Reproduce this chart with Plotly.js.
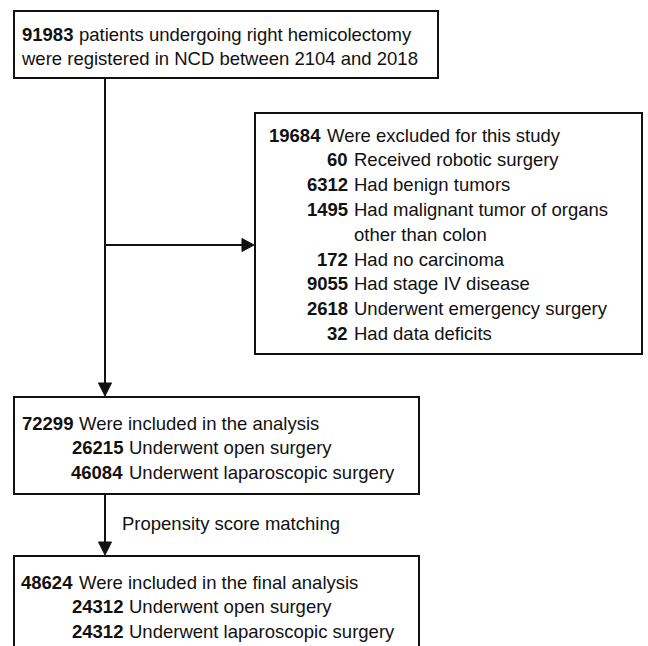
<!DOCTYPE html>
<html>
<head>
<meta charset="utf-8">
<script src="https://cdn.plot.ly/plotly-3.0.1.min.js"></script>
<style>html,body{margin:0;padding:0;background:#fff;}#chart{width:648px;height:646px;}</style>
</head>
<body>
<div id="chart"></div>
<script>
// ---- data ----
const registeredCount = 91983;
const registeredLines = ["patients undergoing right hemicolectomy", "were registered in NCD between 2104 and 2018"];
const excludedCount = 19684;
const excludedLabel = "Were excluded for this study";
const exclusionCounts = [60, 6312, 1495, 172, 9055, 2618, 32];
const exclusionLabels = [["Received robotic surgery"], ["Had benign tumors"], ["Had malignant tumor of organs", "other than colon"], ["Had no carcinoma"], ["Had stage IV disease"], ["Underwent emergency surgery"], ["Had data deficits"]];
const includedCount = 72299;
const includedLabel = "Were included in the analysis";
const groupLabels = ["Underwent open surgery", "Underwent laparoscopic surgery"];
const includedGroupCounts = [26215, 46084];
const matchingLabel = "Propensity score matching";
const finalCount = 48624;
const finalLabel = "Were included in the final analysis";
const finalGroupCounts = [24312, 24312];

// ---- layout geometry (pixels, y downward) ----
const FONT = {family: "'Liberation Sans', Arial, sans-serif", size: 18.5, color: "#111"};
const boxes = {
  start: {x0: 14, x1: 438, y0: 11, y1: 78},
  excl:  {x0: 255, x1: 642, y0: 113, y1: 354},
  incl:  {x0: 14, x1: 419, y0: 397, y1: 494},
  fin:   {x0: 14, x1: 419, y0: 556, y1: 660}
};
const spineX = 105, branchY = 245;
const rowH = 24.8;

const shapes = [];
const annotations = [];
function box(b) {
  shapes.push({type: 'rect', xref: 'x', yref: 'y', x0: b.x0, x1: b.x1, y0: b.y0, y1: b.y1,
    line: {color: '#111', width: 2}, fillcolor: 'rgba(0,0,0,0)'});
}
function line(x0, y0, x1, y1) {
  shapes.push({type: 'line', xref: 'x', yref: 'y', x0, y0, x1, y1, line: {color: '#111', width: 2}});
}
function headDown(x, y) {
  shapes.push({type: 'path', xref: 'x', yref: 'y', path: `M${x-6.5},${y-13} L${x+6.5},${y-13} L${x},${y} Z`,
    fillcolor: '#111', line: {color: '#111', width: 1}});
}
function headRight(x, y) {
  shapes.push({type: 'path', xref: 'x', yref: 'y', path: `M${x-12},${y-6.5} L${x-12},${y+6.5} L${x},${y} Z`,
    fillcolor: '#111', line: {color: '#111', width: 1}});
}
function txt(x, y, text, anchor) {
  annotations.push({xref: 'x', yref: 'y', x, y, text, showarrow: false, xanchor: anchor, yanchor: 'middle',
    font: FONT, borderpad: 0});
}
function row(splitX, y, num, label) {
  if (num !== null) txt(splitX - 2, y, '<b>' + num + '</b>', 'right');
  txt(splitX + 2, y, label, 'left');
}

Object.values(boxes).forEach(box);
line(spineX, boxes.start.y1, spineX, boxes.incl.y0 - 4);
headDown(spineX, boxes.incl.y0 - 1);
line(spineX, branchY, boxes.excl.x0 - 4, branchY);
headRight(boxes.excl.x0 - 1, branchY);
line(spineX, boxes.incl.y1, spineX, boxes.fin.y0 - 4);
headDown(spineX, boxes.fin.y0 - 1);

// start box
row(76, 34, registeredCount, registeredLines[0]);
txt(20, 34 + rowH, registeredLines[1], 'left');

// exclusion box
row(324, 135, excludedCount, excludedLabel);
let yy = 135;
exclusionCounts.forEach((c, i) => {
  exclusionLabels[i].forEach((lab, j) => {
    yy += rowH;
    if (j === 0) row(351, yy, c, lab);
    else txt(353, yy, lab, 'left');
  });
});

// included box
row(76, 423, includedCount, includedLabel);
includedGroupCounts.forEach((c, i) => row(126, 423 + rowH * (i + 1), c, groupLabels[i]));

txt(121, 523, matchingLabel, 'left');

// final box
row(76, 582, finalCount, finalLabel);
finalGroupCounts.forEach((c, i) => row(126, 582 + rowH * (i + 1), c, groupLabels[i]));

const layout = {
  width: 648, height: 646,
  margin: {l: 0, r: 0, t: 0, b: 0},
  paper_bgcolor: '#fff', plot_bgcolor: '#fff',
  xaxis: {range: [0, 648], visible: false, fixedrange: true},
  yaxis: {range: [646, 0], visible: false, fixedrange: true},
  shapes, annotations, showlegend: false
};
Plotly.newPlot('chart', [], layout, {displayModeBar: false, staticPlot: true});
</script>
</body>
</html>
